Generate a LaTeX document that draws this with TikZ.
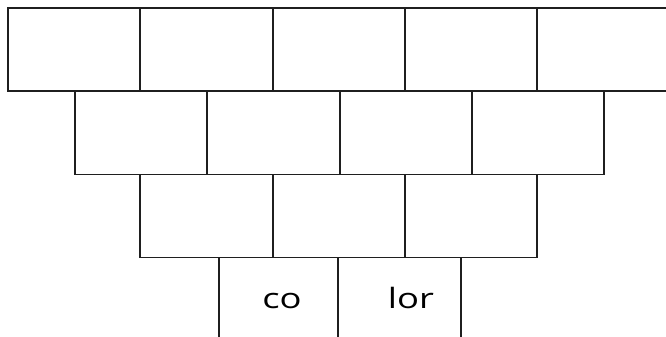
\documentclass[tikz,border=0pt]{standalone}
\usepackage{fontspec}
\newfontfamily\labelfont{Open Sans}
\tikzset{
  brick/.style={draw=black!88, line width=1.1pt, inner sep=0pt, outer sep=0pt, rectangle, anchor=north west},
  brick1/.style={brick, minimum width=132pt, minimum height=83pt},
  brick2/.style={brick, minimum width=132.5pt, minimum height=83.7pt},
  brick3/.style={brick, minimum width=132.5pt, minimum height=83pt},
  lbl/.style={font=\labelfont\fontsize{28}{30}\selectfont, inner sep=0pt, anchor=base, xscale=1.3, transform shape}
}
\begin{document}
\begin{tikzpicture}[x=1pt,y=1pt]
\useasboundingbox (0,0) rectangle (666,-337);
\fill[white] (0,0) rectangle (666,-337);
\clip (0,0) rectangle (666,-337);
% row 1
\node[brick1] (r1a) at (8,-8) {};
\node[brick1,minimum width=133pt] (r1b) at (140,-8) {};
\node[brick1] (r1c) at (273,-8) {};
\node[brick1] (r1d) at (405,-8) {};
\node[brick1,minimum width=140pt] (r1e) at (537,-8) {};
% row 2
\node[brick2,minimum width=132pt] (r2a) at (75,-91) {};
\node[brick2,minimum width=133pt] (r2b) at (207,-91) {};
\node[brick2,minimum width=132pt] (r2c) at (340,-91) {};
\node[brick2,minimum width=132pt] (r2d) at (472,-91) {};
% row 3
\node[brick3,minimum width=133pt] (r3a) at (140,-174.7) {};
\node[brick3,minimum width=132pt] (r3b) at (273,-174.7) {};
\node[brick3,minimum width=132pt] (r3c) at (405,-174.7) {};
% row 4
\node[brick,minimum width=119pt,minimum height=90pt] (r4a) at (219,-257.7) {};
\node[brick,minimum width=123pt,minimum height=90pt] (r4b) at (338,-257.7) {};
% labels
\node[lbl] (t1) at (282,-308.3) {co};
\node[lbl] (t2) at (411,-308.3) {lor};
\end{tikzpicture}
\end{document}
